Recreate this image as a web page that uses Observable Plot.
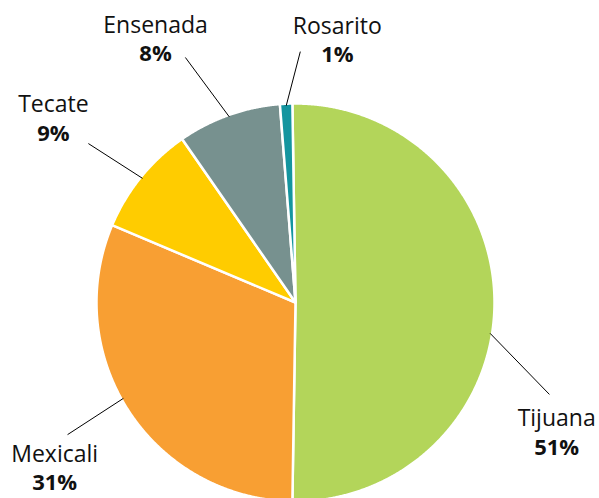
<!DOCTYPE html>
<html><head><meta charset="utf-8">
<script src="https://cdn.jsdelivr.net/npm/d3@7"></script>
<script src="https://cdn.jsdelivr.net/npm/@observablehq/plot@0.6"></script>
<style>html,body{margin:0;padding:0;background:#fff}#chart{width:599px;height:498px}</style>
</head><body><div id="chart"></div>
<script>
// ---- data ----
const municipios = ["Tijuana", "Mexicali", "Tecate", "Ensenada", "Rosarito"];
const shares = [50.5, 31.1, 9.0, 8.4, 1.0];
const colors = ["#b3d55a", "#f89f33", "#ffcc00", "#77918f", "#14959f"];

// ---- layout (not data) ----
const W = 599, H = 498, CX = 295, CY = 302, R = 199;
const startDeg = -0.9;
const labelAngle = [116.7, 235.3, 307, 331.9, 9.1];
const labelDist = [1.469, 1.472, 1.523, 1.493, 1.329];
const leaderShift = [9, 4, 0, 0, 0];
const leaderStartDist = 0.99;
const leaderEndAngle = [109.9, 239.9, 307.5, 335.8, 1.1];
const leaderEndDist = [1.357, 1.324, 1.312, 1.35, 1.261];
const FONT = "'Open Sans', sans-serif";

const rad = d => d * Math.PI / 180;
const a0 = rad(startDeg);
const arcs = d3.pie().sort(null).startAngle(a0).endAngle(a0 + 2 * Math.PI)(shares);

const pts = [];
arcs.forEach((a, i) => {
  const name = municipios[i];
  pts.push({name, x: 0, y: 0});
  const n = Math.max(4, Math.ceil((a.endAngle - a.startAngle) / rad(0.25)));
  for (let k = 0; k <= n; k++) {
    const t = a.startAngle + (a.endAngle - a.startAngle) * k / n;
    pts.push({name, x: Math.sin(t), y: Math.cos(t)});
  }
  pts.push({name, x: 0, y: 0});
});

const labels = municipios.map((name, i) => {
  const la = rad(labelAngle[i]);
  const mid = (arcs[i].startAngle + arcs[i].endAngle) / 2 + rad(leaderShift[i]);
  const ea = rad(leaderEndAngle[i]);
  return {
    name,
    pct: Math.round(shares[i]) + "%",
    x: labelDist[i] * Math.sin(la), y: labelDist[i] * Math.cos(la),
    x1: leaderStartDist * Math.sin(mid), y1: leaderStartDist * Math.cos(mid),
    x2: leaderEndDist[i] * Math.sin(ea), y2: leaderEndDist[i] * Math.cos(ea)
  };
});

const chart = Plot.plot({
  width: W, height: H,
  margin: 0,
  x: {domain: [-CX / R, (W - CX) / R], range: [0, W], axis: null},
  y: {domain: [-(H - CY) / R, CY / R], range: [H, 0], axis: null},
  color: {domain: municipios, range: colors},
  style: {fontFamily: FONT, background: "#fff"},
  marks: [
    Plot.line(pts, {x: "x", y: "y", z: "name", fill: "name", stroke: "white", strokeWidth: 2.5, strokeLinejoin: "round"}),
    Plot.link(labels, {x1: "x1", y1: "y1", x2: "x2", y2: "y2", stroke: "#000", strokeWidth: 1}),
    Plot.text(labels, {x: "x", y: "y", text: "name", dy: -15, fontSize: 23, fill: "#111", textAnchor: "middle"}),
    Plot.text(labels, {x: "x", y: "y", text: "pct", dy: 14, fontSize: 22, fontWeight: "bold", fill: "#111", textAnchor: "middle"})
  ]
});
document.getElementById("chart").appendChild(chart);
</script>
</body></html>
